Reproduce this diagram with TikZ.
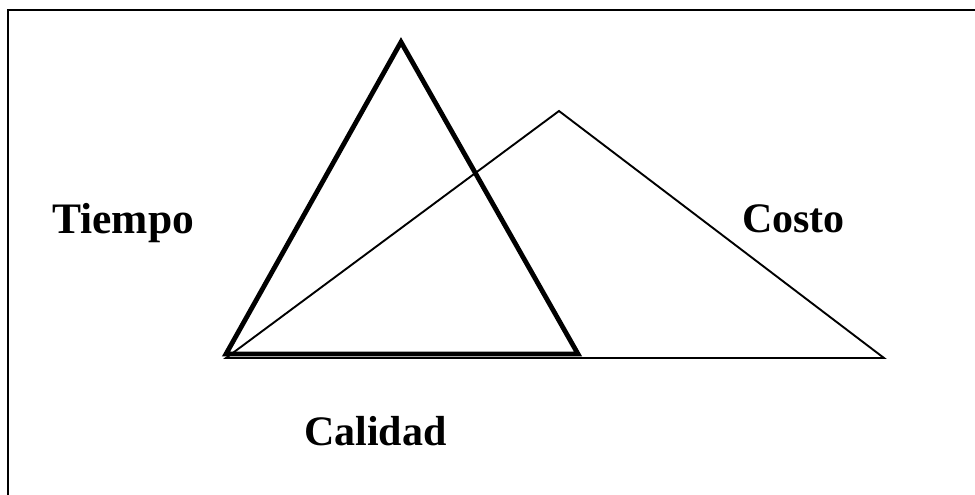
\documentclass[tikz,border=0pt]{standalone}
\usepackage{fontspec}
\setmainfont{Liberation Serif}
\begin{document}
\begin{tikzpicture}[x=1pt,y=-1pt,
  lbl/.style={anchor=base west,inner sep=0pt,font=\fontsize{42}{42}\selectfont\bfseries},
  thickedge/.style={line width=4.8pt,line join=miter},
  thinedge/.style={line width=1.9pt,line join=miter}]
\useasboundingbox (0,0) rectangle (975,495);
% frame (only top and left edges visible)
\coordinate (fb) at (8,496);
\coordinate (fc) at (8,10);
\coordinate (fr) at (976,10);
\draw[line width=2.4pt] (fb) -- (fc) -- (fr);
% thin triangle
\coordinate (tA) at (559,111);
\coordinate (tL) at (226,358);
\coordinate (tR) at (884,358);
\draw[thinedge] (tL) -- (tA) -- (tR) -- cycle;
% thick triangle
\coordinate (kA) at (401,42);
\coordinate (kL) at (226,354);
\coordinate (kR) at (578,354);
\draw[thickedge] (kL) -- (kA) -- (kR) -- cycle;
% labels
\node[lbl,font=\fontsize{43.5}{44}\selectfont\bfseries] (tiempo) at (52,233) {Tiempo};
\node[lbl] (costo) at (742,232) {Costo};
\node[lbl] (calidad) at (304,445) {Calidad};
\end{tikzpicture}
\end{document}
